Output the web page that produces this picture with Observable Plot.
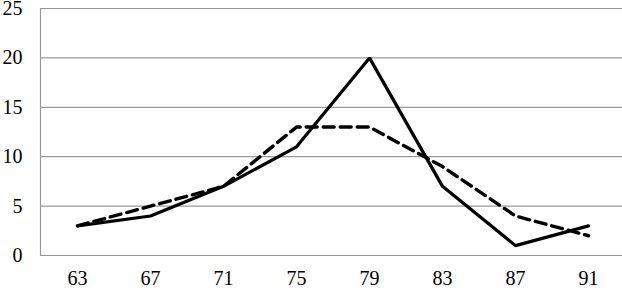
<!DOCTYPE html>
<html><head><meta charset="utf-8">
<script src="https://cdn.jsdelivr.net/npm/d3@7"></script>
<script src="https://cdn.jsdelivr.net/npm/@observablehq/plot@0.6"></script>
<style>body{margin:0;background:#fff}</style>
</head><body><div id="chart"></div>
<script>
const categories = ["63","67","71","75","79","83","87","91"];
const solidSeries = [3,4,7,11,20,7,1,3];
const dashedSeries = [3,5,7,13,13,9,4,2];
const yTicks = [0,5,10,15,20,25];

const solid = categories.map((c,i)=>({x:c,y:solidSeries[i]}));
const dashed = categories.map((c,i)=>({x:c,y:dashedSeries[i]}));

const chart = Plot.plot({
  width: 622, height: 290,
  marginLeft: 40, marginRight: 0, marginTop: 8, marginBottom: 35,
  style: {fontFamily: "Liberation Serif", fontSize: "20px", color: "#000", background: "#fff"},
  x: {type: "point", domain: categories, padding: 0.5, range: [40, 625], label: null, tickSize: 0, tickPadding: 15},
  y: {domain: [0,25], ticks: yTicks, label: null, tickSize: 0, tickPadding: 18},
  marks: [
    Plot.gridY(yTicks, {stroke: "#999", strokeOpacity: 1, strokeWidth: 1.2}),
    Plot.axisY({ticks: yTicks, tickSize: 0, tickPadding: 18, label: null, fontSize: 20}),
    Plot.axisX({tickSize: 0, tickPadding: 15, label: null, fontSize: 20}),
    Plot.line(dashed, {x: "x", y: "y", stroke: "#000", strokeWidth: 3.4, strokeDasharray: "11,6", strokeLinejoin: "miter"}),
    Plot.line(solid, {x: "x", y: "y", stroke: "#000", strokeWidth: 3.2, strokeLinejoin: "miter"})
  ]
});
const svg = d3.select(chart);
svg.selectAll("text").style("font-family", "'Liberation Serif', 'Times New Roman', serif").style("font-size", "20px");
svg.append("line").attr("x1",40.5).attr("x2",40.5).attr("y1",8).attr("y2",255).attr("stroke","#999").attr("stroke-width",1.2);
document.getElementById("chart").appendChild(chart);
</script>
</body></html>
